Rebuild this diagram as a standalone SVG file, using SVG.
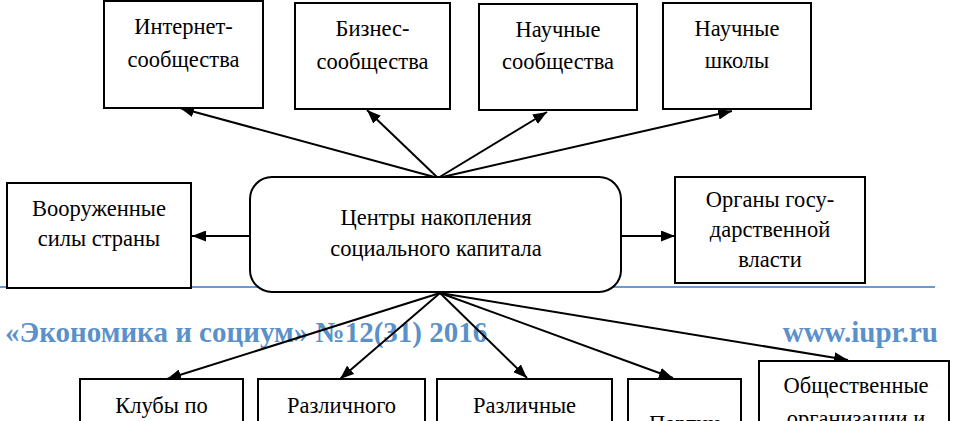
<svg xmlns="http://www.w3.org/2000/svg" width="955" height="421" viewBox="0 0 955 421">
<defs>
<marker id="ah" markerUnits="userSpaceOnUse" markerWidth="15" markerHeight="11" refX="14" refY="5.5" orient="auto">
<path d="M0,0 L14,5.5 L0,11 z" fill="#000"/>
</marker>
<style>
.box{fill:#fff;stroke:#000;stroke-width:2}
.t{font-family:"Liberation Serif","Times New Roman",serif;font-size:22.5px;fill:#000;text-anchor:middle}
.c{stroke:#000;stroke-width:2;fill:none;marker-end:url(#ah)}
.hdr{font-family:"Liberation Serif","Times New Roman",serif;font-size:29px;font-weight:bold;fill:#5b91cb}
</style>
</defs>
<rect width="955" height="421" fill="#fff"/>
<line x1="0" y1="287" x2="935" y2="287" stroke="#6a9bcc" stroke-width="2"/>
<text class="hdr" x="5" y="342">«Экономика и социум» №12(31) 2016</text>
<text class="hdr" x="938" y="342" text-anchor="end">www.iupr.ru</text>
<g id="connectors">
<line class="c" x1="438" y1="178" x2="180" y2="108"/>
<line class="c" x1="438" y1="178" x2="367" y2="110"/>
<line class="c" x1="438" y1="178" x2="547" y2="112"/>
<line class="c" x1="438" y1="178" x2="732" y2="111"/>
<line class="c" x1="250" y1="236" x2="192" y2="236"/>
<line class="c" x1="621" y1="236" x2="675" y2="236"/>
<line class="c" x1="440" y1="293" x2="167" y2="379"/>
<line class="c" x1="440" y1="293" x2="340" y2="379"/>
<line class="c" x1="440" y1="293" x2="527" y2="378"/>
<line class="c" x1="440" y1="293" x2="673" y2="378"/>
<line class="c" x1="440" y1="293" x2="848" y2="360"/>
</g>
<g id="n-internet"><rect class="box" x="104" y="1" width="159" height="107"/><text class="t" x="183.5" y="34">Интернет-</text><text class="t" x="183.5" y="67">сообщества</text></g>
<g id="n-business"><rect class="box" x="295" y="3" width="155" height="106"/><text class="t" x="372.5" y="36">Бизнес-</text><text class="t" x="372.5" y="69">сообщества</text></g>
<g id="n-science"><rect class="box" x="479" y="4" width="158" height="106"/><text class="t" x="558" y="37">Научные</text><text class="t" x="558" y="69">сообщества</text></g>
<g id="n-schools"><rect class="box" x="663" y="3" width="148" height="106"/><text class="t" x="737" y="36">Научные</text><text class="t" x="737" y="68">школы</text></g>
<g id="n-army"><rect class="box" x="7" y="183" width="184" height="105"/><text class="t" x="99" y="216">Вооруженные</text><text class="t" x="99" y="246">силы страны</text></g>
<g id="n-center"><rect class="box" x="250" y="177" width="371" height="115" rx="22" ry="22"/><text class="t" x="436" y="225">Центры накопления</text><text class="t" x="436" y="256">социального капитала</text></g>
<g id="n-gov"><rect class="box" x="675" y="177" width="190" height="106"/><text class="t" x="770" y="207">Органы госу-</text><text class="t" x="770" y="237">дарственной</text><text class="t" x="770" y="267">власти</text></g>
<g id="n-clubs"><rect class="box" x="80" y="379" width="163" height="60"/><text class="t" x="161.5" y="413">Клубы по</text></g>
<g id="n-various1"><rect class="box" x="258" y="379" width="167" height="60"/><text class="t" x="341.5" y="413">Различного</text></g>
<g id="n-various2"><rect class="box" x="437" y="379" width="175" height="60"/><text class="t" x="524.5" y="413">Различные</text></g>
<g id="n-parties"><rect class="box" x="628" y="379" width="113" height="60"/><text class="t" x="684.5" y="431">Партии</text></g>
<g id="n-public"><rect class="box" x="759" y="361" width="190" height="80"/><text class="t" x="856" y="393">Общественные</text><text class="t" x="856" y="426">организации и</text></g>
</svg>
